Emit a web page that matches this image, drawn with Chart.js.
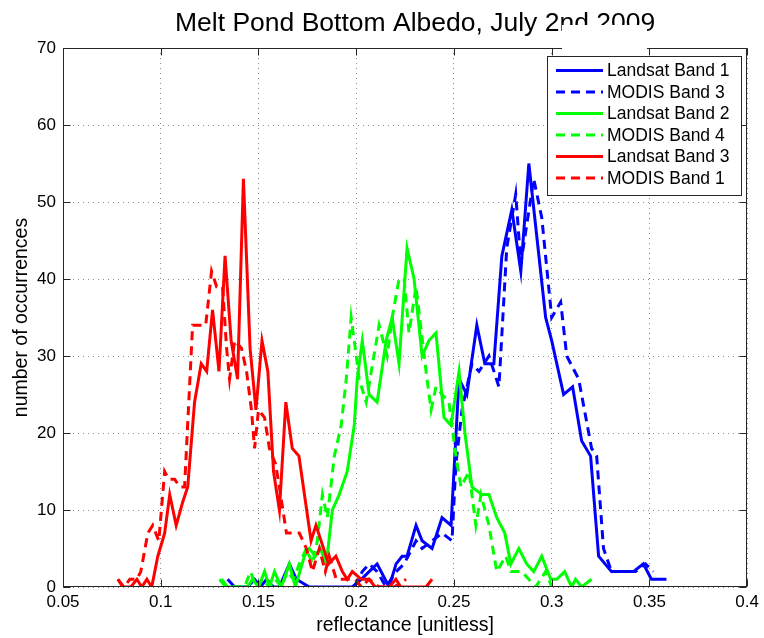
<!DOCTYPE html>
<html><head><meta charset="utf-8">
<script src="https://cdn.jsdelivr.net/npm/chart.js@4/dist/chart.umd.min.js"></script>
<style>html,body{margin:0;padding:0;background:#fff}#wrap{width:764px;height:638px}</style>
</head><body><div id="wrap"><canvas id="c" width="764" height="638"></canvas></div>
<script>
const FONT = "'Liberation Sans', Arial, Helvetica, sans-serif";
const titleText = 'Melt Pond Bottom Albedo, July 2nd 2009';
const xAxisTitle = 'reflectance [unitless]';
const yAxisTitle = 'number of occurrences';
const xTicks = [0.05, 0.1, 0.15, 0.2, 0.25, 0.3, 0.35, 0.4];
const xTickLabels = ['0.05', '0.1', '0.15', '0.2', '0.25', '0.3', '0.35', '0.4'];
const yTicks = [0, 10, 20, 30, 40, 50, 60, 70];
const yTickLabels = ['0', '10', '20', '30', '40', '50', '60', '70'];
const seriesNames = ['Landsat Band 1', 'MODIS Band 3', 'Landsat Band 2', 'MODIS Band 4', 'Landsat Band 3', 'MODIS Band 1'];
const seriesColors = ['#0000ff', '#0000ff', '#00ff00', '#00ff00', '#ff0000', '#ff0000'];
const seriesDashed = [false, true, false, true, false, true];

// Landsat Band 1 (blue solid)
const landsat1X = [0.1342,0.1378,0.1444,0.1480,0.1510,0.1541,0.1577,0.1607,0.1658,0.1694,0.1760,0.1980,0.2026,0.2066,0.2107,0.2168,0.2204,0.2235,0.2260,0.2306,0.2337,0.2388,0.2439,0.2485,0.2526,0.2566,0.2617,0.2658,0.2704,0.2745,0.2796,0.2842,0.2883,0.2969,0.3000,0.3061,0.3107,0.3153,0.3199,0.3240,0.3306,0.3332,0.3418,0.3469,0.3510,0.3587];
const landsat1Y = [1,0,0,1,0,1,0,0,3,1,0,0,1,2,3,0,3,4,4,8,6,5,9,8,27,25,34,29,29,43,49,41,55,35,32,25,26,19,17,4,2,2,2,3,1,1];
// MODIS Band 3 (blue dashed)
const modis3X = [0.1990,0.2031,0.2066,0.2107,0.2153,0.2204,0.2245,0.2286,0.2306,0.2337,0.2388,0.2439,0.2490,0.2510,0.2541,0.2592,0.2628,0.2679,0.2730,0.2770,0.2816,0.2842,0.2908,0.2949,0.3000,0.3046,0.3077,0.3138,0.3204,0.3230,0.3265,0.3306,0.3378,0.3429,0.3480,0.3520];
const modis3Y = [0,2,3,2,0,2,3,5,6,5,6,7,6,16,23,29,28,30,26,44,51,42,53,48,35,37,30,27,18,17,5,2,2,2,3,2];
// Landsat Band 2 (green solid)
const landsat2X = [0.1301,0.1332,0.1444,0.1469,0.1500,0.1531,0.1556,0.1582,0.1617,0.1658,0.1689,0.1735,0.1760,0.1791,0.1816,0.1847,0.1878,0.1913,0.1954,0.1990,0.2005,0.2031,0.2066,0.2107,0.2153,0.2184,0.2219,0.2260,0.2296,0.2337,0.2372,0.2408,0.2449,0.2485,0.2526,0.2556,0.2592,0.2643,0.2679,0.2719,0.2760,0.2791,0.2832,0.2872,0.2908,0.2949,0.2995,0.3026,0.3066,0.3102,0.3122,0.3153,0.3204];
const landsat2Y = [1,0,0,1,0,2,0,2,0,3,0,4,5,4,5,3,10,12,15,21,27,32,25,24,32,35,29,44,40,30,32,33,22,21,28,20,13,12,12,9,7,3,5,3,2,4,1,1,2,0,1,0,1];
// MODIS Band 4 (green dashed)
const modis4X = [0.1311,0.1342,0.1429,0.1459,0.1490,0.1520,0.1556,0.1587,0.1617,0.1648,0.1679,0.1709,0.1745,0.1776,0.1801,0.1827,0.1852,0.1888,0.1923,0.1949,0.1974,0.1990,0.2015,0.2051,0.2077,0.2117,0.2158,0.2184,0.2219,0.2245,0.2270,0.2306,0.2362,0.2383,0.2408,0.2439,0.2474,0.2510,0.2536,0.2577,0.2612,0.2638,0.2679,0.2719,0.2765,0.2791,0.2816,0.2847,0.2883,0.2918,0.2969,0.3000];
const modis4Y = [1,0,0,2,0,1,0,1,0,2,1,3,5,3,6,12,9,17,21,27,35,32,27,24,28,34,30,35,40,40,33,39,27,23,26,25,24,17,13,15,8,12,8,2,4,2,2,2,1,0,2,0];
// Landsat Band 3 (red solid)
const landsat3X = [0.0781,0.0806,0.0847,0.0878,0.0903,0.0929,0.0954,0.0985,0.1020,0.1046,0.1079,0.1112,0.1138,0.1173,0.1207,0.1235,0.1265,0.1298,0.1329,0.1360,0.1393,0.1423,0.1457,0.1487,0.1518,0.1548,0.1577,0.1607,0.1640,0.1673,0.1707,0.1769,0.1794,0.1859,0.1896,0.1929,0.1954,0.1980,0.2026,0.2066,0.2097,0.2168,0.2203,0.2228,0.2357,0.2388];
const landsat3Y = [1,0,0,1,0,1,0,4,7,12,8,11,13,24,29,28,36,28,43,32,27,53,31,23,32,28,15,10,24,18,17,6,8,3,4,2,1,2,1,1,0,0,1,0,0,1];
// MODIS Band 1 (red dashed)
const modis1X = [0.0781,0.0811,0.0842,0.0878,0.0898,0.0934,0.0959,0.0990,0.1020,0.1041,0.1071,0.1097,0.1122,0.1163,0.1199,0.1230,0.1260,0.1286,0.1316,0.1337,0.1352,0.1378,0.1413,0.1439,0.1464,0.1480,0.1500,0.1531,0.1556,0.1587,0.1607,0.1643,0.1673,0.1709,0.1745,0.1776,0.1811,0.1842,0.1862,0.1898,0.1929,0.1964,0.1995,0.2026,0.2066,0.2117,0.2194,0.2255];
const modis1Y = [1,0,1,1,2,7,8,6,15,14,14,13,13,34,34,34,41,39,39,31,27,32,31,28,23,18,23,22,18,16,13,7,7,7,5,2,5,2,4,1,1,1,1,0,1,0,0,1];

const seriesX = [landsat1X, modis3X, landsat2X, modis4X, landsat3X, modis1X];
const seriesY = [landsat1Y, modis3Y, landsat2Y, modis4Y, landsat3Y, modis1Y];

const DASH = [9, 6];
const AXIS_COLOR = '#262626';

const datasets = seriesNames.map((name, k) => ({
  label: name,
  data: seriesX[k].map((x, i) => ({ x: x, y: seriesY[k][i] })),
  borderColor: seriesColors[k],
  backgroundColor: seriesColors[k],
  borderWidth: 3,
  borderDash: seriesDashed[k] ? DASH : [],
  pointRadius: 0,
  tension: 0,
  fill: false,
  order: 6 - k
}));

const decor = {
  id: 'decor',
  beforeDraw(chart) {
    const ctx = chart.ctx;
    ctx.save();
    ctx.fillStyle = '#fff';
    ctx.fillRect(0, 0, chart.width, chart.height);
    ctx.restore();
  },
  afterDraw(chart) {
    const ctx = chart.ctx;
    const a = chart.chartArea;
    const xs = chart.scales.x, ys = chart.scales.y;
    ctx.save();
    // title
    ctx.fillStyle = '#000';
    ctx.font = '26.5px ' + FONT;
    ctx.textAlign = 'center';
    ctx.textBaseline = 'alphabetic';
    ctx.fillText(titleText, (a.left + a.right) / 2 + 10, 31);
    // box
    ctx.strokeStyle = AXIS_COLOR;
    ctx.lineWidth = 1;
    const L = Math.round(a.left) + 0.5, R = Math.round(a.right) - 0.5;
    const T = Math.round(a.top) + 0.5, B = Math.round(a.bottom) - 0.5;
    ctx.strokeRect(L, T, R - L, B - T);
    // inward ticks
    const TL = 7;
    ctx.beginPath();
    xTicks.forEach(v => {
      const px = Math.round(xs.getPixelForValue(v)) + 0.5;
      ctx.moveTo(px, B); ctx.lineTo(px, B - TL);
      ctx.moveTo(px, T); ctx.lineTo(px, T + TL);
    });
    yTicks.forEach(v => {
      const py = Math.round(ys.getPixelForValue(v)) + 0.5;
      ctx.moveTo(L, py); ctx.lineTo(L + TL, py);
      ctx.moveTo(R, py); ctx.lineTo(R - TL, py);
    });
    ctx.stroke();
    // legend
    const lx = 547, ly = 56, lw = 194, lh = 139;
    ctx.fillStyle = '#fff';
    ctx.fillRect(lx, ly, lw, lh);
    ctx.strokeStyle = AXIS_COLOR;
    ctx.strokeRect(lx + 0.5, ly + 0.5, lw, lh);
    ctx.font = '17.5px ' + FONT;
    ctx.textAlign = 'left';
    ctx.textBaseline = 'middle';
    chart.data.datasets.forEach((ds, i) => {
      const y = 70.5 + i * 21.5;
      ctx.strokeStyle = ds.borderColor;
      ctx.lineWidth = 3;
      ctx.setLineDash(ds.borderDash);
      ctx.beginPath();
      ctx.moveTo(556, y); ctx.lineTo(603, y);
      ctx.stroke();
      ctx.setLineDash([]);
      ctx.fillStyle = '#000';
      ctx.fillText(ds.label, 607, y + 1);
    });
    // white patch over title / top frame (as in the reference)
    ctx.fillStyle = '#fff';
    ctx.fillRect(562, 25, 85, 25);
    ctx.restore();
  }
};

new Chart(document.getElementById('c'), {
  type: 'line',
  data: { datasets: datasets },
  plugins: [decor],
  options: {
    responsive: false,
    animation: false,
    devicePixelRatio: 1,
    layout: { padding: { top: 48, right: 16, left: 0, bottom: 0 } },
    plugins: { legend: { display: false }, title: { display: false }, tooltip: { enabled: false } },
    scales: {
      x: {
        type: 'linear', min: 0.05, max: 0.4,
        afterBuildTicks: s => { s.ticks = xTicks.map(v => ({ value: v })); },
        afterFit: s => { s.height = 51; },
        ticks: { font: { family: FONT, size: 17 }, color: '#000', padding: 5, maxRotation: 0, autoSkip: false,
                 callback: (v, i) => xTickLabels[i] },
        grid: { color: '#8a8a8a', lineWidth: 1, drawTicks: false },
        border: { display: false, dash: [1, 4] },
        title: { display: true, text: xAxisTitle, color: '#000', font: { family: FONT, size: 19.5 }, padding: { top: 0, bottom: 1 } }
      },
      y: {
        type: 'linear', min: 0, max: 70,
        afterBuildTicks: s => { s.ticks = yTicks.map(v => ({ value: v })); },
        afterFit: s => { s.width = 63; },
        ticks: { font: { family: FONT, size: 17 }, color: '#000', padding: 7, autoSkip: false,
                 callback: (v, i) => yTickLabels[i] },
        grid: { color: '#8a8a8a', lineWidth: 1, drawTicks: false },
        border: { display: false, dash: [1, 4] },
        title: { display: true, text: yAxisTitle, color: '#000', font: { family: FONT, size: 19.5 }, padding: { top: 10, bottom: 0 } }
      }
    }
  }
});
</script>
</body></html>
